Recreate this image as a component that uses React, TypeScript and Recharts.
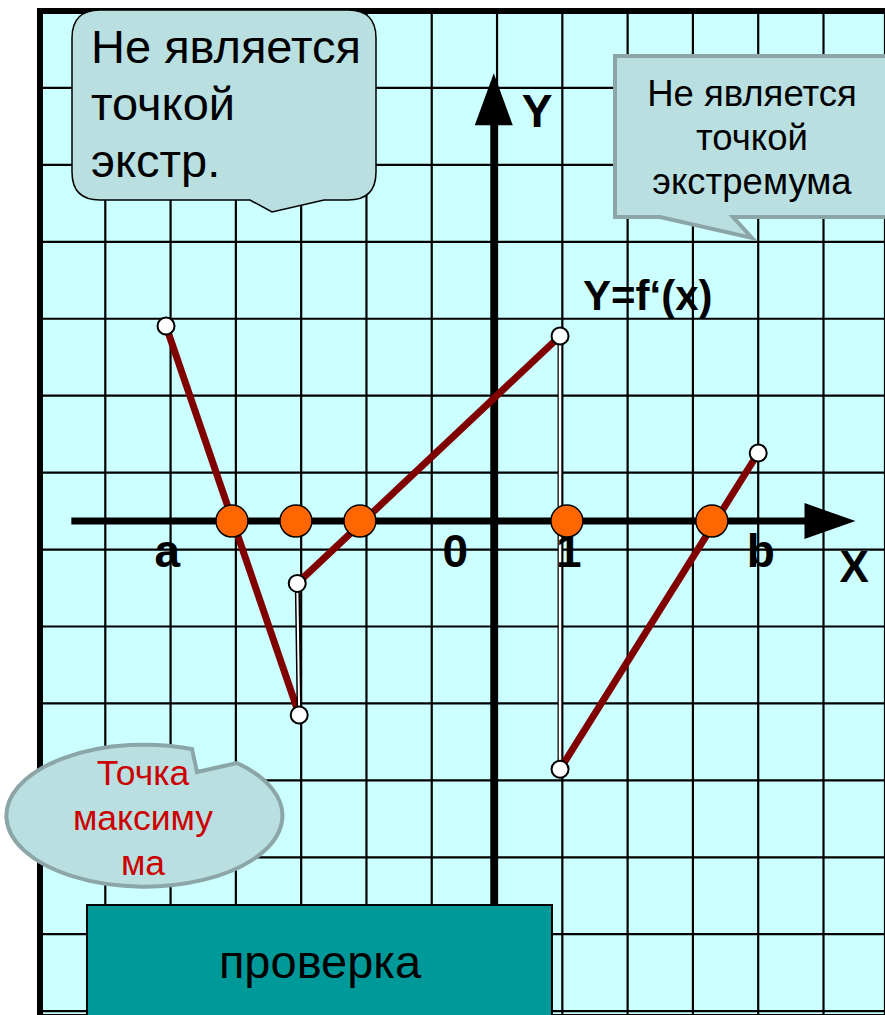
import React from 'react';
import { ComposedChart, XAxis, YAxis, Line, Scatter, CartesianGrid } from 'recharts';

// ---------- data ----------
const X_DOMAIN: [number, number] = [-7, 5.942];
const Y_DOMAIN: [number, number] = [-6.42, 6.63];
const GRID_X = [-6, -5, -4, -3, -2, -1, 0, 1, 2, 3, 4, 5];
const GRID_Y = [5.63, 4.63, 3.63, 2.63, 1.63, 0.63, -0.37, -1.37, -2.37, -3.37, -4.37, -5.37, -6.37];

const SEG_1 = [{ x: -5.07, y: 2.535 }, { x: -3.03, y: -2.52 }];
const SEG_2 = [{ x: -3.06, y: -0.81 }, { x: 0.965, y: 2.405 }];
const SEG_3 = [{ x: 0.965, y: -3.225 }, { x: 4.0, y: 0.885 }];
const JUMP_1 = [{ x: -3.03, y: -2.52 }, { x: -3.06, y: -0.81 }];
const JUMP_2 = [{ x: 0.965, y: 2.405 }, { x: 0.965, y: -3.225 }];
const ENDPOINTS = [
  { x: -5.07, y: 2.535 },
  { x: -3.03, y: -2.52 },
  { x: -3.06, y: -0.81 },
  { x: 0.965, y: 2.405 },
  { x: 0.965, y: -3.225 },
  { x: 4.0, y: 0.885 },
];
const ZEROS_X = [-4.06, -3.08, -2.1, 1.07, 3.29];
const TICK_LABELS = ['a', '0', '1', 'b'];
const TICK_X = [-5.05, -0.64, 1.1, 4.04];

const Y_AXIS_X = -0.05;
const X_AXIS_LINE = [{ x: -6.52, y: 0 }, { x: 4.9, y: 0 }];
const Y_AXIS_LINE = [{ x: Y_AXIS_X, y: -6.42 }, { x: Y_AXIS_X, y: 5.3 }];
const X_ARROW = [{ x: 5.49, y: 0 }];
const Y_ARROW = [{ x: Y_AXIS_X, y: 5.82 }];
const BORDER = [
  { x: X_DOMAIN[0], y: Y_DOMAIN[0] },
  { x: X_DOMAIN[0], y: Y_DOMAIN[1] },
  { x: X_DOMAIN[1], y: Y_DOMAIN[1] },
];
const FUNC_LABEL = 'Y=f\u2018(x)';

const ZERO_DATA = ZEROS_X.map((x) => ({ x, y: 0 }));
const TICK_DATA = TICK_X.map((x, i) => ({ x, y: 0, label: TICK_LABELS[i] }));

// ---------- styles ----------
const FONT = "'Liberation Sans', Arial, Helvetica, sans-serif";
const RED = '#800000';
const CALLOUT_FILL = '#B9DFE1';
const CALLOUT_GREY = '#8CA6A8';

const TickLabel = (p: any) => (
  <text x={p.cx} y={p.cy + 46} textAnchor="middle" fontFamily={FONT} fontWeight="bold" fontSize={46} fill="#000">
    {p.payload.label}
  </text>
);

const XArrow = (p: any) => (
  <g>
    <polygon points={`${p.cx},${p.cy} ${p.cx - 51},${p.cy - 18} ${p.cx - 51},${p.cy + 18}`} fill="#000" />
    <text x={p.cx - 16} y={p.cy + 61} fontFamily={FONT} fontWeight="bold" fontSize={44} fill="#000">X</text>
  </g>
);

const YArrow = (p: any) => (
  <g>
    <polygon points={`${p.cx},${p.cy} ${p.cx - 19},${p.cy + 52} ${p.cx + 19},${p.cy + 52}`} fill="#000" />
    <text x={p.cx + 28} y={p.cy + 54} fontFamily={FONT} fontWeight="bold" fontSize={46} fill="#000">Y</text>
  </g>
);

const FuncLabel = (p: any) => (
  <text x={p.cx + 23} y={p.cy - 26} fontFamily={FONT} fontWeight="bold" fontSize={42} fill="#000">
    {FUNC_LABEL}
  </text>
);

const WhiteDot = (p: any) => <circle cx={p.cx} cy={p.cy} r={8.5} fill="#fff" stroke="#000" strokeWidth={2} />;
const OrangeDot = (p: any) => <circle cx={p.cx} cy={p.cy} r={16} fill="#FF6600" stroke="#000" strokeWidth={1.5} />;

const Overlay = () => (
  <svg width={885} height={1015} style={{ position: 'absolute', left: 0, top: 0, pointerEvents: 'none' }}>
    {/* top-left callout */}
    <path
      d="M 100 10 H 348 Q 376 10 376 38 V 172 Q 376 200 348 200 H 324 L 272 212 L 250 200 H 100 Q 72 200 72 172 V 38 Q 72 10 100 10 Z"
      fill={CALLOUT_FILL}
      stroke="#000"
      strokeWidth={1.5}
    />
    <g fontFamily={FONT} fontSize={47} fill="#000">
      <text x={91} y={63}>Не является</text>
      <text x={91} y={120}>точкой</text>
      <text x={91} y={177}>экстр.</text>
    </g>
    {/* top-right callout */}
    <path d="M 615 56 H 892 V 217 H 733 L 752 238 L 660 217 H 615 Z" fill={CALLOUT_FILL} stroke={CALLOUT_GREY} strokeWidth={4} />
    <g fontFamily={FONT} fontSize={36.5} fill="#000" textAnchor="middle">
      <text x={752} y={106}>Не является</text>
      <text x={752} y={150}>точкой</text>
      <text x={752} y={194}>экстремума</text>
    </g>
    {/* ellipse callout */}
    <path d="M 192 749 L 197 772 L 237 763 A 138 71 0 1 1 192 749 Z" fill={CALLOUT_FILL} stroke={CALLOUT_GREY} strokeWidth={4} />
    <g fontFamily={FONT} fontSize={35.5} fill="#CC0000" textAnchor="middle">
      <text x={143} y={785}>Точка</text>
      <text x={143} y={830}>максиму</text>
      <text x={143} y={875}>ма</text>
    </g>
    {/* button */}
    <rect x={87} y={905} width={465} height={120} fill="#009999" stroke="#000" strokeWidth={2} />
    <text x={320} y={978} textAnchor="middle" fontFamily={FONT} fontSize={47} fill="#000">проверка</text>
  </svg>
);

export default function App() {
  return (
    <div style={{ position: 'absolute', left: 0, top: 0, width: 885, height: 1015, overflow: 'hidden', background: '#fff' }}>
      <ComposedChart width={885} height={1015} margin={{ top: 11, right: 0, bottom: 0, left: 40 }}>
        <CartesianGrid fill="#CCFFFF" fillOpacity={1} stroke="#000" strokeWidth={2.2} strokeDasharray="" />
        <XAxis type="number" dataKey="x" domain={X_DOMAIN} ticks={GRID_X} hide />
        <YAxis type="number" dataKey="y" domain={Y_DOMAIN} ticks={GRID_Y} hide />
        <Line data={BORDER} dataKey="y" stroke="#000" strokeWidth={6} dot={false} activeDot={false} isAnimationActive={false} strokeLinejoin="miter" />
        <Line data={X_AXIS_LINE} dataKey="y" stroke="#000" strokeWidth={7} dot={false} activeDot={false} isAnimationActive={false} />
        <Line data={Y_AXIS_LINE} dataKey="y" stroke="#000" strokeWidth={7} dot={false} activeDot={false} isAnimationActive={false} />
        <Line data={SEG_1} dataKey="y" stroke={RED} strokeWidth={7} dot={false} activeDot={false} isAnimationActive={false} />
        <Line data={SEG_2} dataKey="y" stroke={RED} strokeWidth={7} dot={false} activeDot={false} isAnimationActive={false} />
        <Line data={SEG_3} dataKey="y" stroke={RED} strokeWidth={7} dot={false} activeDot={false} isAnimationActive={false} />
        <Line data={JUMP_1} dataKey="y" stroke="#000" strokeWidth={5} dot={false} activeDot={false} isAnimationActive={false} />
        <Line data={JUMP_1} dataKey="y" stroke="#fff" strokeWidth={2} dot={false} activeDot={false} isAnimationActive={false} />
        <Line data={JUMP_2} dataKey="y" stroke="#000" strokeWidth={5} dot={false} activeDot={false} isAnimationActive={false} />
        <Line data={JUMP_2} dataKey="y" stroke="#fff" strokeWidth={2.5} dot={false} activeDot={false} isAnimationActive={false} />
        <Scatter data={X_ARROW} shape={XArrow} isAnimationActive={false} />
        <Scatter data={Y_ARROW} shape={YArrow} isAnimationActive={false} />
        <Scatter data={TICK_DATA} shape={TickLabel} isAnimationActive={false} />
        <Scatter data={[SEG_2[1]]} shape={FuncLabel} isAnimationActive={false} />
        <Scatter data={ENDPOINTS} shape={WhiteDot} isAnimationActive={false} />
        <Scatter data={ZERO_DATA} shape={OrangeDot} isAnimationActive={false} />
      </ComposedChart>
      <Overlay />
    </div>
  );
}
